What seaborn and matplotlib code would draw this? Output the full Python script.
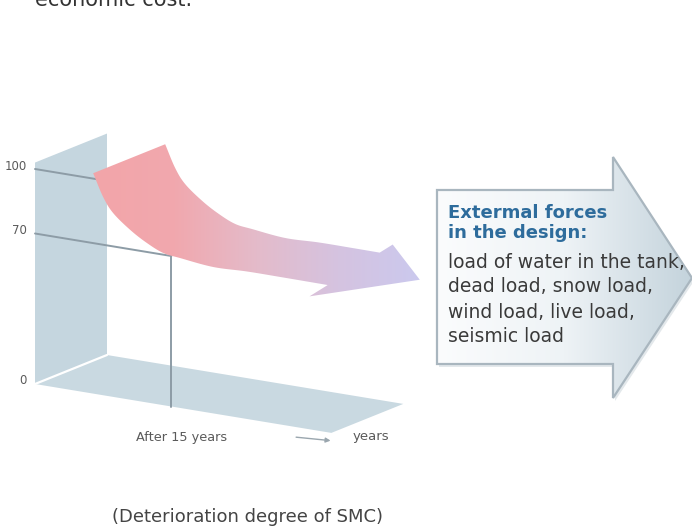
import numpy as np
import pandas as pd
import matplotlib
matplotlib.use("Agg")
import matplotlib.pyplot as plt
from matplotlib.patches import Polygon
from matplotlib.colors import LinearSegmentedColormap
import seaborn as sns

# ---- content -------------------------------------------------------------
value_ticks = [0, 70, 100]
value_tick_labels = ["0", "70", "100"]
marker_year = 15
marker_label = "After 15 years"
time_label = "years"
caption = "(Deterioration degree of SMC)"
header_tail = "economic cost."
box_heading = ["Extermal forces", "in the design:"]
box_lines = ["load of water in the tank,", "dead load, snow load,",
             "wind load, live load,", "seismic load"]

# deterioration curve (front edge of the ribbon): year -> strength (%)
curve_years = [6.4, 7.5, 8.6, 10.5, 12.3, 14.1, 16.0, 19.6, 23.3, 27.0, 32.2]
curve_values = [102.5, 92.2, 85.5, 78.9, 74.2, 70.8, 69.7, 68.1, 68.6, 68.6, 68.5]

# ---- oblique projection: (year, value, depth) -> figure pixels ------------
ORIGIN = np.array([35.0, 384.0])
E_YEAR = np.array([9.09, 1.5])
E_VALUE = np.array([0.0, -2.15])
E_DEPTH = np.array([72.0, -29.0])
WALL_TOP = 103.0
FLOOR_YEARS = 32.6


def proj(year, value, depth=0.0):
    year, value, depth = np.broadcast_arrays(np.asarray(year, float),
                                             np.asarray(value, float),
                                             np.asarray(depth, float))
    x = ORIGIN[0] + year * E_YEAR[0] + value * E_VALUE[0] + depth * E_DEPTH[0]
    y = ORIGIN[1] + year * E_YEAR[1] + value * E_VALUE[1] + depth * E_DEPTH[1]
    return x, y


def catmull_rom(xs, ys, n=16):
    """Smooth polyline through the given points."""
    p = np.column_stack([xs, ys]).astype(float)
    p = np.vstack([2 * p[0] - p[1], p, 2 * p[-1] - p[-2]])
    out = []
    t = np.linspace(0, 1, n, endpoint=False)[:, None]
    for i in range(1, len(p) - 2):
        p0, p1, p2, p3 = p[i - 1], p[i], p[i + 1], p[i + 2]
        seg = 0.5 * ((2 * p1) + (-p0 + p2) * t + (2 * p0 - 5 * p1 + 4 * p2 - p3) * t ** 2
                     + (-p0 + 3 * p1 - 3 * p2 + p3) * t ** 3)
        out.append(seg)
    out.append(p[-2][None, :])
    return np.vstack(out)


def gradient_fill(ax, verts, colors, x0, x1, zorder, edgecolor="none", lw=0):
    poly = Polygon(verts, closed=True, facecolor="none", edgecolor=edgecolor,
                   linewidth=lw, zorder=zorder + 0.1)
    ax.add_patch(poly)
    cmap = LinearSegmentedColormap.from_list("g", colors)
    grad = np.linspace(0, 1, 256)[None, :]
    ys = verts[:, 1]
    im = ax.imshow(grad, cmap=cmap, extent=(x0, x1, ys.max() + 2, ys.min() - 2),
                   aspect="auto", zorder=zorder, interpolation="bilinear")
    clip = Polygon(verts, closed=True, transform=ax.transData)
    im.set_clip_path(clip)
    return poly


sns.set_theme(style="white")
plt.rcParams["font.family"] = ["DejaVu Sans"]

W, H = 692, 530
fig = plt.figure(figsize=(W / 100, H / 100), dpi=100)
ax = fig.add_axes([0, 0, 1, 1])

wall_c = "#c5d6df"
floor_c = "#c9d9e1"
grid_c = "#8d9ca6"
label_c = "#5a5a5a"

# back wall
wx, wy = proj([0, 0, 0, 0], [0, WALL_TOP, WALL_TOP, 0], [0, 0, 1, 1])
ax.add_patch(Polygon(np.column_stack([wx, wy]), closed=True, facecolor=wall_c,
                     edgecolor="none", zorder=1))
# floor
fx, fy = proj([0, FLOOR_YEARS, FLOOR_YEARS, 0], [0, 0, 0, 0], [0, 0, 1, 1])
ax.add_patch(Polygon(np.column_stack([fx, fy]), closed=True, facecolor=floor_c,
                     edgecolor="none", zorder=1))
# seam between wall and floor
sx, sy = proj([0, 0], [0, 0], [0, 1])
ax.plot(sx, sy, color="white", lw=1.6, zorder=2)

# value gridlines and the 15-year drop line
rows = []
for v, end in [(100, 7.0), (70, marker_year)]:
    gx, gy = proj([0, end], [v, v])
    rows += [dict(line=f"v{v}", x=a, y=b) for a, b in zip(gx, gy)]
dx, dy = proj([marker_year, marker_year], [70, 0])
rows += [dict(line="drop", x=a, y=b) for a, b in zip(dx, dy)]
lines_df = pd.DataFrame(rows)
sns.lineplot(data=lines_df, x="x", y="y", units="line", estimator=None, sort=False,
             color=grid_c, lw=1.4, ax=ax, zorder=3, legend=False)

# tick labels on the wall
for v, lab in zip(value_ticks, value_tick_labels):
    tx, ty = proj(0, v)
    ax.text(float(tx) - 8, float(ty) - 3, lab, ha="right", va="center",
            fontsize=8.5, color=label_c, zorder=5)

# time axis labels
mx, my = proj(marker_year, 0)
ax.text(float(mx) + 10, float(my) + 31, marker_label, ha="center", va="center",
        fontsize=9.3, color=label_c)
ex, ey = proj(FLOOR_YEARS, 0)
ax.text(float(ex) + 40, float(ey) + 4, time_label, ha="center", va="center",
        fontsize=9.5, color=label_c)
ax.annotate("", xy=(float(ex) + 2, float(ey) + 8), xytext=(float(ex) - 38, float(ey) + 4),
            arrowprops=dict(arrowstyle="-|>", color="#9aa6ae", lw=1.0,
                            mutation_scale=7))

# ---- deterioration ribbon -------------------------------------------------
smooth = catmull_rom(curve_years, curve_values)
sy_years, sy_vals = smooth[:, 0], smooth[:, 1]
lo_x, lo_y = proj(sy_years, sy_vals, 0.0)
upper_end = 30.0
mask = sy_years <= upper_end
up_x, up_y = proj(sy_years[mask], sy_vals[mask], 1.0)
ux, uy = proj(upper_end, np.interp(upper_end, sy_years, sy_vals), 1.0)
up_x = np.append(up_x, ux)
up_y = np.append(up_y, uy)

L = np.array([lo_x[-1], lo_y[-1]])
U = np.array([up_x[-1], up_y[-1]])
barb_lo = L + 0.35 * (L - U)
barb_up = U + 0.25 * (U - L)
u_dir = E_YEAR / np.linalg.norm(E_YEAR)
tip = 0.5 * (L + U) + 67 * u_dir

ribbon = np.vstack([
    np.column_stack([lo_x, lo_y]),
    barb_lo, tip, barb_up,
    np.column_stack([up_x[::-1], up_y[::-1]]),
])
gradient_fill(ax, ribbon, ["#f3a5a9", "#f1a8ae", "#e4bbca", "#d5c3e0", "#cbc9ee"],
              lo_x.min(), tip[0], zorder=4)

# ---- external-forces arrow ------------------------------------------------
arrow = np.array([[437, 190], [613, 190], [613, 157], [692, 278],
                  [613, 398], [613, 364], [437, 364]], float)
shadow = arrow + np.array([2.0, 3.0])
ax.add_patch(Polygon(shadow, closed=True, facecolor="#e3e8eb", edgecolor="none",
                     zorder=5))
gradient_fill(ax, arrow, ["#fbfcfd", "#eef3f6", "#c4d3dc"], 437, 692, zorder=6,
              edgecolor="#a9b6bf", lw=1.6)

head_c = "#2e6c9c"
text_c = "#3a3a3a"
ax.text(448, 213, box_heading[0], fontsize=13, fontweight="bold", color=head_c,
        va="center", ha="left", zorder=8)
ax.text(448, 233, box_heading[1], fontsize=13, fontweight="bold", color=head_c,
        va="center", ha="left", zorder=8)
for i, line in enumerate(box_lines):
    ax.text(448, 262 + 25 * i, line, fontsize=13.5, color=text_c, va="center",
            ha="left", zorder=8)

# ---- surrounding text -----------------------------------------------------
ax.text(35, 6, header_tail, fontsize=15, color="#333333", ha="left",
        va="baseline", zorder=8)
ax.text(248, 517, caption, fontsize=13, color="#444444", ha="center", va="center")

ax.set_xlim(0, W)
ax.set_ylim(H, 0)
ax.axis("off")
fig.savefig("out.png", dpi=100, facecolor="white")
